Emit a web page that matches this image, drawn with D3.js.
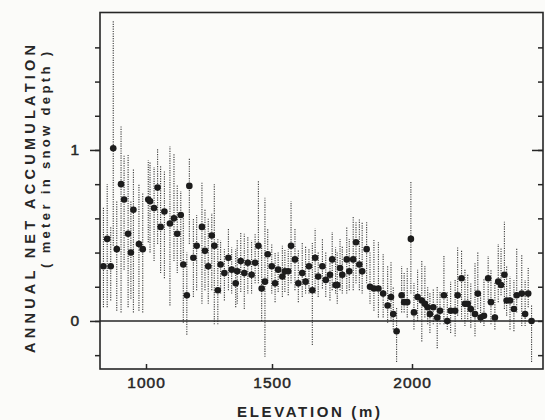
<!DOCTYPE html>
<html><head><meta charset="utf-8">
<script src="https://cdn.jsdelivr.net/npm/d3@7"></script>
<style>html,body{margin:0;padding:0;background:#fbfbf9;} svg{display:block}</style>
</head><body>
<svg id="chart" width="545" height="420"></svg>
<script>
// ---- data ----
const elevation = [831,846,860,870,884,901,913,929,940,950,972,987,1009,1016,1032,1046,1058,1073,1095,1111,1124,1138,1148,1162,1172,1188,1201,1222,1234,1247,1261,1271,1285,1296,1311,1327,1340,1356,1362,1376,1390,1404,1419,1433,1446,1459,1472,1483,1499,1511,1522,1537,1546,1558,1568,1582,1594,1608,1620,1632,1644,1654,1665,1680,1692,1707,1715,1727,1733,1743,1751,1767,1776,1790,1800,1812,1822,1838,1850,1864,1880,1897,1913,1925,1933,1945,1963,1972,1983,1996,2007,2020,2035,2046,2056,2064,2076,2090,2100,2114,2126,2138,2154,2163,2177,2189,2199,2210,2225,2235,2245,2257,2272,2282,2296,2308,2318,2330,2338,2350,2364,2374,2392,2404,2415,2427];
const accumulation = [0.32,0.48,0.32,1.01,0.42,0.80,0.71,0.51,0.40,0.65,
 0.45,0.42,0.71,0.70,0.66,0.78,0.55,0.64,0.57,0.60,
 0.51,0.62,0.33,0.15,0.79,0.37,0.44,0.55,0.41,0.32,
 0.50,0.44,0.18,0.33,0.28,0.37,0.30,0.22,0.29,0.35,
 0.28,0.34,0.27,0.34,0.44,0.19,0.23,0.39,0.32,0.22,
 0.30,0.26,0.29,0.29,0.44,0.36,0.22,0.28,0.23,0.32,
 0.18,0.37,0.26,0.32,0.24,0.27,0.36,0.21,0.21,0.31,
 0.27,0.36,0.29,0.36,0.46,0.33,0.29,0.42,0.20,0.19,
 0.19,0.16,0.09,0.14,0.04,-0.06,0.15,0.11,0.11,0.48,
 0.05,0.14,0.12,0.10,0.08,0.04,0.08,0.02,0.06,0.15,
 0.00,0.06,0.06,0.15,0.25,0.10,0.10,0.07,0.04,0.16,
 0.02,0.03,0.25,0.11,0.02,0.23,0.21,0.27,0.12,0.12,
 0.07,0.15,0.16,0.04,0.16,0.00];
const lowerBound = [0.08,0.08,0.12,0.44,0.06,0.05,0.30,0.08,0.13,0.05,
 0.06,0.05,0.46,0.40,0.35,0.45,0.28,0.25,0.09,0.35,
 0.28,0.35,-0.01,-0.08,0.45,0.14,0.18,0.10,0.18,0.10,
 0.18,-0.02,-0.02,0.16,0.12,0.18,0.16,0.08,0.10,0.17,
 0.07,0.16,0.16,0.22,0.22,0.00,-0.21,0.22,0.16,0.11,
 0.17,0.14,0.17,0.15,0.22,0.18,0.11,0.14,0.16,0.16,
 -0.14,0.16,0.14,0.19,0.14,0.12,0.18,0.16,0.10,0.18,
 0.16,0.16,0.18,0.18,0.22,0.18,0.16,0.22,0.10,0.06,
 0.02,0.02,-0.01,0.00,-0.05,-0.24,0.05,0.05,0.02,0.16,
 -0.05,0.00,-0.12,0.02,-0.02,-0.07,-0.02,-0.16,-0.02,-0.02,
 -0.05,-0.07,-0.09,0.03,0.01,-0.03,0.01,-0.04,-0.09,0.07,
 -0.01,-0.03,0.11,-0.02,-0.05,0.11,0.15,0.07,0.03,-0.05,
 -0.06,0.05,-0.03,-0.03,0.08,-0.24];
const upperBound = [0.67,0.80,0.55,1.76,0.70,1.14,0.97,0.97,0.70,0.89,
 0.80,0.75,0.94,0.93,0.90,1.01,0.91,0.88,1.02,0.98,
 0.80,0.76,0.60,0.40,0.95,0.60,0.62,0.81,0.65,0.60,
 0.63,0.80,0.48,0.47,0.42,0.54,0.43,0.42,0.48,0.52,
 0.51,0.49,0.47,0.51,0.82,0.44,0.72,0.54,0.45,0.40,
 0.40,0.44,0.42,0.42,0.70,0.54,0.42,0.46,0.44,0.42,
 0.46,0.54,0.40,0.48,0.40,0.34,0.52,0.43,0.40,0.48,
 0.44,0.55,0.48,0.61,0.58,0.60,0.58,0.58,0.40,0.48,
 0.46,0.39,0.32,0.35,0.20,0.08,0.32,0.28,0.31,0.82,
 0.22,0.30,0.35,0.32,0.20,0.17,0.19,0.20,0.17,0.38,
 0.17,0.23,0.24,0.43,0.41,0.30,0.27,0.22,0.34,0.40,
 0.17,0.25,0.38,0.30,0.23,0.45,0.43,0.58,0.32,0.26,
 0.24,0.43,0.39,0.24,0.31,0.09];
const xTickValues = [1000, 1500, 2000];
const yMinorTicks = [-0.2, 0, 0.2, 0.4, 0.6, 0.8, 1.0, 1.2, 1.4, 1.6];
const yMajorTicks = [0, 1];
const xTitle = "ELEVATION (m)";
const yTitle = "ANNUAL NET ACCUMULATION";
const ySubTitle = "( meter in snow depth )";

// ---- layout ----
const L = 100, R = 543, T = 12.5, B = 369;
const svg = d3.select("#chart");
const ink = "#262626";
const font = "'Liberation Sans', Arial, sans-serif";

// the printed axis is slightly uneven; follow its tick positions
const x = d3.scaleLinear().domain([1000, 1500, 2000]).range([146, 272, 412]);
const y = d3.scaleLinear().domain([-0.281, 1.804]).range([B, T]);

const pts = elevation.map((e, i) => ({e, v: accumulation[i], lo: lowerBound[i], hi: upperBound[i]}));

// error bars (dotted)
svg.append("g").selectAll("line").data(pts).join("line")
  .attr("x1", d => x(d.e)).attr("x2", d => x(d.e))
  .attr("y1", d => y(d.lo)).attr("y2", d => y(d.hi))
  .attr("stroke", "#3c3c3c").attr("stroke-width", 1.1)
  .attr("stroke-dasharray", "1.2,1.2");

// zero line
svg.append("line").attr("x1", L).attr("x2", R).attr("y1", y(0)).attr("y2", y(0))
  .attr("stroke", ink).attr("stroke-width", 1.6);

// points
svg.append("g").selectAll("circle").data(pts).join("circle")
  .attr("cx", d => x(d.e)).attr("cy", d => y(d.v)).attr("r", 3.3)
  .attr("fill", "#1c1c1c");

// frame
svg.append("rect").attr("x", L).attr("y", T).attr("width", R - L).attr("height", B - T)
  .attr("fill", "none").attr("stroke", ink).attr("stroke-width", 1.6);

function styleAxis(g) {
  g.select(".domain").remove();
  g.selectAll(".tick line").attr("stroke", ink).attr("stroke-width", 1.5);
  g.selectAll(".tick text").attr("fill", ink).attr("font-family", font)
    .attr("font-size", 15.5).attr("stroke", ink).attr("stroke-width", 0.5);
}

// left axis: outward ticks
svg.append("g").attr("transform", `translate(${L},0)`)
  .call(d3.axisLeft(y).tickValues(yMinorTicks).tickSize(5).tickFormat(""))
  .call(styleAxis);
svg.append("g").attr("transform", `translate(${L},0)`)
  .call(d3.axisLeft(y).tickValues(yMajorTicks).tickSize(10).tickPadding(11).tickFormat(d3.format("d")))
  .call(styleAxis);

// right axis: inward ticks
svg.append("g").attr("transform", `translate(${R},0)`)
  .call(d3.axisRight(y).tickValues(yMinorTicks).tickSize(-5).tickFormat(""))
  .call(styleAxis);
svg.append("g").attr("transform", `translate(${R},0)`)
  .call(d3.axisRight(y).tickValues([1]).tickSize(-11).tickFormat(""))
  .call(styleAxis);

// bottom axis: inward ticks, labels below
svg.append("g").attr("transform", `translate(0,${B})`)
  .call(d3.axisBottom(x).tickValues(xTickValues).tickSizeInner(-5).tickSizeOuter(0).tickPadding(8).tickFormat(d3.format("d")))
  .call(styleAxis)
  .selectAll(".tick text").attr("letter-spacing", 1);

// titles
svg.append("text").attr("x", 308.5).attr("y", 416.5)
  .attr("text-anchor", "middle").attr("font-family", font).attr("font-size", 15)
  .attr("font-weight", "bold").attr("fill", ink)
  .attr("textLength", 143).attr("lengthAdjust", "spacing")
  .text(xTitle);

svg.append("text").attr("transform", "translate(35,199) rotate(-90)")
  .attr("text-anchor", "middle").attr("font-family", font).attr("font-size", 14.5)
  .attr("font-weight", "bold").attr("fill", ink)
  .attr("textLength", 308).attr("lengthAdjust", "spacing")
  .text(yTitle);

svg.append("text").attr("transform", "translate(50,160) rotate(-90)")
  .attr("text-anchor", "middle").attr("font-family", font).attr("font-size", 13)
  .attr("font-weight", "bold").attr("fill", ink)
  .attr("textLength", 216).attr("lengthAdjust", "spacing")
  .text(ySubTitle);
</script>
</body></html>
